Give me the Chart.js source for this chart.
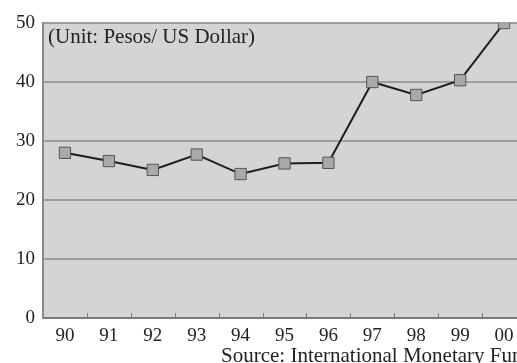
<!DOCTYPE html>
<html>
<head>
<meta charset="utf-8">
<script src="https://cdn.jsdelivr.net/npm/chart.js@4/dist/chart.umd.min.js"></script>
<style>
  html, body { margin: 0; padding: 0; background: #fff; overflow: hidden; }
  #wrap { width: 517px; height: 363px; overflow: hidden; }
</style>
</head>
<body>
<div id="wrap"><canvas id="c" width="540" height="363"></canvas></div>
<script>
// Year labels and end-of-year exchange rate (Pesos per US Dollar)
const years = ['90', '91', '92', '93', '94', '95', '96', '97', '98', '99', '00'];
const pesoRate = [28.0, 26.6, 25.1, 27.7, 24.4, 26.2, 26.3, 40.0, 37.8, 40.3, 50.0];
const yTicks = [0, 10, 20, 30, 40, 50];
const unitLabel = '(Unit: Pesos/ US Dollar)';
const sourceLabel = 'Source: International Monetary Fund';

const serif = '"Liberation Serif", "DejaVu Serif", serif';

// Gray plot background, inside tick marks between years, unit and source text
const decorations = {
  id: 'decorations',
  beforeDraw(chart) {
    const { ctx, chartArea: a } = chart;
    ctx.save();
    ctx.fillStyle = '#d4d4d4';
    ctx.fillRect(a.left, a.top, a.right - a.left, a.bottom - a.top);
    ctx.restore();
  },
  afterDatasetsDraw(chart) {
    const { ctx, chartArea: a, scales } = chart;
    const x = scales.x;
    ctx.save();
    ctx.strokeStyle = '#777';
    ctx.lineWidth = 1;
    for (let i = 0; i < years.length - 1; i++) {
      const px = Math.round((x.getPixelForValue(i) + x.getPixelForValue(i + 1)) / 2) + 0.5;
      ctx.beginPath();
      ctx.moveTo(px, a.bottom);
      ctx.lineTo(px, a.bottom - 5);
      ctx.stroke();
    }
    ctx.fillStyle = '#222';
    ctx.font = '21px ' + serif;
    ctx.textBaseline = 'alphabetic';
    ctx.textAlign = 'left';
    ctx.fillText(unitLabel, a.left + 5, 43);
    ctx.fillText(sourceLabel, 221, 362);
    ctx.restore();
  }
};

new Chart(document.getElementById('c'), {
  type: 'line',
  data: {
    labels: years,
    datasets: [{
      data: pesoRate,
      borderColor: '#1e1e1e',
      borderWidth: 2,
      pointStyle: 'rect',
      pointRadius: 8,
      pointBackgroundColor: '#a9a9a9',
      pointBorderColor: '#555',
      pointBorderWidth: 1,
      tension: 0
    }]
  },
  options: {
    responsive: false,
    animation: false,
    layout: { padding: { top: 23, right: 14, left: 0, bottom: 0 } },
    plugins: { legend: { display: false }, tooltip: { enabled: false } },
    scales: {
      x: {
        offset: true,
        grid: { display: false, drawTicks: false },
        border: { display: true, color: '#7a7a7a', width: 2 },
        ticks: { color: '#222', font: { family: serif, size: 19 }, padding: 7, maxRotation: 0 },
        afterFit(s) { s.height = 45; }
      },
      y: {
        min: 0,
        max: 50,
        afterBuildTicks(s) { s.ticks = yTicks.map(v => ({ value: v })); },
        grid: { color: '#9c9c9c', lineWidth: 2, drawTicks: false },
        border: { display: true, color: '#8a8a8a', width: 2 },
        ticks: { color: '#222', font: { family: serif, size: 19 }, padding: 8 },
        afterFit(s) { s.width = 43; }
      }
    }
  },
  plugins: [decorations]
});
</script>
</body>
</html>
